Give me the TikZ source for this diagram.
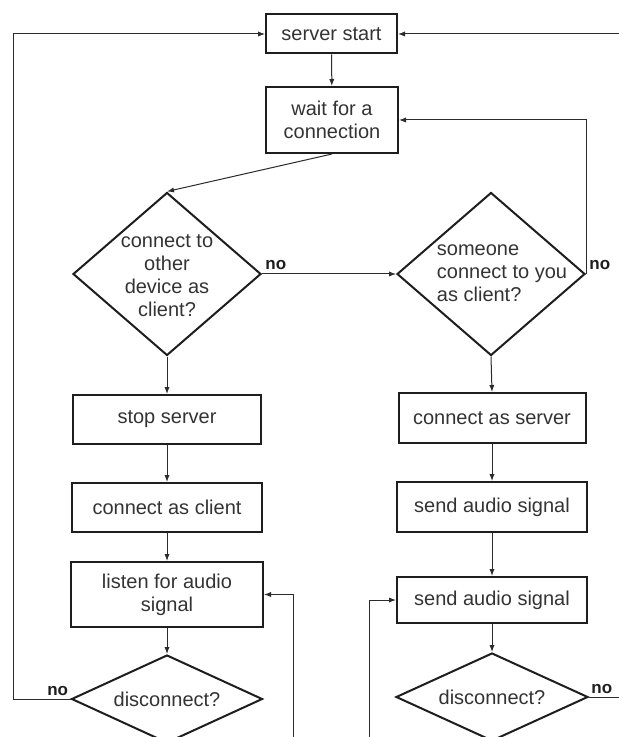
\documentclass[tikz,border=0pt]{standalone}
\usepackage{fontspec}
\setmainfont{Liberation Sans}
\usetikzlibrary{positioning, calc, arrows.meta, shapes.geometric}
\definecolor{Ink}{HTML}{1E1E1E}
\definecolor{Wire}{HTML}{2B2B2B}
\definecolor{Txt}{HTML}{333333}
\tikzset{
    stepbox/.style={rectangle, draw=Ink, line width=1pt, text=Txt, align=center, font=\fontsize{10}{11.5}\selectfont, inner sep=0pt},
    askbox/.style={diamond, draw=Ink, line width=1pt, inner sep=0pt},
    asktext/.style={text=Txt, font=\fontsize{10}{11.5}\selectfont, inner sep=0pt},
    nolabel/.style={text=Ink, font=\bfseries\fontsize{8.5}{10}\selectfont, inner sep=0pt},
    arrow/.style={-{Latex[length=3.5pt,width=2.6pt]}, line width=0.5pt, color=Wire},
}
\begin{document}
\begin{tikzpicture}[x=0.5pt, y=-0.5pt]
    \clip (0,0) rectangle (619,737);
    % top of the loop
    \node[stepbox, minimum width=65.5pt, minimum height=19.5pt] (start) at (331.5,34) {server start};
    \node[stepbox, minimum width=66pt, minimum height=33pt] (wait) at (332,120) {wait for a\\connection};
    % the two questions
    \node[askbox, minimum width=94pt, minimum height=81.5pt] (askclient) at (167,274) {};
    \node[asktext, align=center] (askclienttext) at (167,276) {connect to\\other\\device as\\client?};
    \node[askbox, minimum width=94pt, minimum height=81.5pt] (askserver) at (491,274) {};
    \node[asktext, align=left] (askservertext) at (502,273) {someone\\connect to you\\as client?};
    % client side
    \node[stepbox, minimum width=94pt, minimum height=24.5pt] (stopsrv) at (167,419.5) {stop server};
    \node[stepbox, minimum width=95pt, minimum height=24.5pt] (asclient) at (167,507.5) {connect as client};
    \node[stepbox, minimum width=96pt, minimum height=32.5pt] (listen) at (167,594.5) {listen for audio\\signal};
    \node[askbox, minimum width=95.5pt, minimum height=44pt] (discA) at (167,699) {};
    \node[asktext] (discAtext) at (167,699) {disconnect?};
    % server side
    \node[stepbox, minimum width=93.5pt, minimum height=25pt] (asserver) at (492,418) {connect as server};
    \node[stepbox, minimum width=95pt, minimum height=25pt] (sendA) at (492,507) {send audio signal};
    \node[stepbox, minimum width=95pt, minimum height=23pt] (sendB) at (492,600) {send audio signal};
    \node[askbox, minimum width=96pt, minimum height=44pt] (discB) at (492,697) {};
    \node[asktext] (discBtext) at (492,697) {disconnect?};
    % no labels
    \node[nolabel, anchor=south west] (noA) at ([xshift=1.5pt,yshift=2pt]askclient.east) {no};
    \node[nolabel, anchor=south west] (noB) at ([xshift=1.5pt,yshift=2pt]askserver.east) {no};
    \node[nolabel, anchor=south east] (noC) at ([xshift=-1pt,yshift=1.5pt]discA.west) {no};
    \node[nolabel, anchor=south west] (noD) at ([xshift=1pt,yshift=1.5pt]discB.east) {no};
    % rails for the loops
    \coordinate (leftrail) at (13,0);
    \coordinate (rightrail) at (630,0);
    \coordinate (lowrail) at (0,760);
    \coordinate (listenrail) at (293,0);
    \coordinate (sendrail) at (369,0);
    % connectors
    \draw[arrow] (start) -- (wait);
    \draw[arrow] (wait.south) -- (askclient.north);
    \draw[arrow] (askclient.east) -- (askserver.west);
    \draw[arrow] (askserver.east) |- (wait.east);
    \draw[arrow] (askclient.south) -- (stopsrv.north);
    \draw[arrow] (stopsrv) -- (asclient);
    \draw[arrow] (asclient) -- (listen);
    \draw[arrow] (listen.south) -- (discA.north);
    \draw[arrow] (askserver.south) -- (asserver.north);
    \draw[arrow] (asserver) -- (sendA);
    \draw[arrow] (sendA) -- (sendB);
    \draw[arrow] (sendB.south) -- (discB.north);
    \draw[arrow] (discA.west) -- (discA.west -| leftrail) |- (start.west);
    \draw[arrow] (discB.east) -- (discB.east -| rightrail) |- (start.east);
    \draw[arrow] (discA.south) |- (lowrail -| listenrail) |- (listen.east);
    \draw[arrow] (discB.south) |- (lowrail -| sendrail) |- (sendB.west);
\end{tikzpicture}
\end{document}
